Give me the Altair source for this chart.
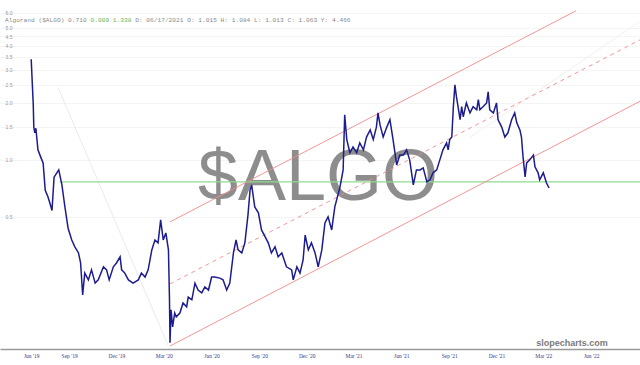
import altair as alt
import pandas as pd

# ---- price series (log scale) ----
dates = [
    "2019-06-20", "2019-06-24", "2019-06-25", "2019-06-27", "2019-06-29",
    "2019-07-03", "2019-07-08", "2019-07-13", "2019-07-17", "2019-07-22", "2019-07-26", "2019-07-30",
    "2019-08-03", "2019-08-08", "2019-08-12", "2019-08-18", "2019-08-24", "2019-08-30",
    "2019-09-06", "2019-09-12", "2019-09-19", "2019-09-23", "2019-09-27",
    "2019-10-01", "2019-10-08", "2019-10-14", "2019-10-21", "2019-10-27",
    "2019-11-06", "2019-11-12", "2019-11-17", "2019-11-25",
    "2019-12-01", "2019-12-08", "2019-12-11", "2019-12-17", "2019-12-24",
    "2020-01-02", "2020-01-12", "2020-01-18", "2020-01-25", "2020-01-31",
    "2020-02-07", "2020-02-13", "2020-02-19", "2020-02-24", "2020-02-29",
    "2020-03-05", "2020-03-10", "2020-03-12", "2020-03-13", "2020-03-15", "2020-03-18", "2020-03-22", "2020-03-25",
    "2020-04-01", "2020-04-07", "2020-04-14", "2020-04-17", "2020-04-24", "2020-04-30",
    "2020-05-06", "2020-05-13", "2020-05-19", "2020-05-26",
    "2020-06-01", "2020-06-07", "2020-06-17", "2020-06-23", "2020-06-30",
    "2020-07-06", "2020-07-13", "2020-07-18", "2020-07-22", "2020-07-29",
    "2020-08-04", "2020-08-10", "2020-08-14", "2020-08-17", "2020-08-23", "2020-08-30",
    "2020-09-05", "2020-09-12", "2020-09-18", "2020-09-24",
    "2020-10-01", "2020-10-07", "2020-10-14", "2020-10-23",
    "2020-11-02", "2020-11-05", "2020-11-12", "2020-11-18", "2020-11-24", "2020-11-28",
    "2020-12-04", "2020-12-10", "2020-12-17", "2020-12-23", "2020-12-30",
    "2021-01-05", "2021-01-11", "2021-01-18", "2021-01-24", "2021-01-30",
    "2021-02-03", "2021-02-09", "2021-02-12", "2021-02-16", "2021-02-22", "2021-02-28",
    "2021-03-07", "2021-03-13", "2021-03-20", "2021-03-26",
    "2021-04-02", "2021-04-08", "2021-04-14", "2021-04-17", "2021-04-21", "2021-04-27",
    "2021-05-04", "2021-05-10", "2021-05-16", "2021-05-23", "2021-05-29",
    "2021-06-05", "2021-06-11", "2021-06-17", "2021-06-24", "2021-06-30",
    "2021-07-07", "2021-07-13", "2021-07-20", "2021-07-26",
    "2021-08-01", "2021-08-08", "2021-08-14", "2021-08-20", "2021-08-27", "2021-08-30",
    "2021-09-02", "2021-09-06", "2021-09-09", "2021-09-12", "2021-09-15", "2021-09-18", "2021-09-22", "2021-09-25", "2021-09-28",
    "2021-10-04", "2021-10-11", "2021-10-17", "2021-10-24", "2021-10-27", "2021-10-30",
    "2021-11-05", "2021-11-12", "2021-11-15", "2021-11-18", "2021-11-25",
    "2021-12-01", "2021-12-04", "2021-12-11", "2021-12-17", "2021-12-23", "2021-12-30",
    "2022-01-05", "2022-01-09", "2022-01-15", "2022-01-18", "2022-01-21", "2022-01-25", "2022-01-28",
    "2022-02-03", "2022-02-10", "2022-02-13", "2022-02-19", "2022-02-22",
    "2022-03-01", "2022-03-07", "2022-03-12",
]
prices = [
    3.40, 1.95, 1.49, 1.39, 1.47,
    1.13, 1.04, 0.96, 0.69, 0.64, 0.59, 0.54,
    0.81, 0.85, 0.885, 0.74, 0.56, 0.435,
    0.377, 0.347, 0.322, 0.285, 0.193,
    0.252, 0.232, 0.262, 0.223, 0.232,
    0.272, 0.262, 0.232, 0.272,
    0.285, 0.307, 0.262, 0.252, 0.232,
    0.223, 0.232, 0.252, 0.240, 0.262,
    0.334, 0.377, 0.364, 0.482, 0.377,
    0.411, 0.334, 0.182, 0.108, 0.161, 0.131, 0.155, 0.148,
    0.155, 0.175, 0.167, 0.188, 0.182, 0.223,
    0.205, 0.198, 0.213, 0.205,
    0.240, 0.240, 0.237, 0.232, 0.205,
    0.223, 0.322, 0.377, 0.334, 0.322,
    0.364, 0.512, 0.694, 0.737, 0.564, 0.525,
    0.426, 0.392, 0.364, 0.322,
    0.347, 0.307, 0.322, 0.272,
    0.262, 0.232, 0.272, 0.252, 0.296, 0.40,
    0.334, 0.364, 0.322, 0.272, 0.334,
    0.464, 0.500, 0.426, 0.564, 0.653,
    0.720, 0.885, 1.73, 1.28, 1.09, 1.17,
    1.09, 1.23, 1.13, 1.32,
    1.44, 1.28, 1.49, 1.77, 1.53, 1.32,
    1.49, 1.63, 1.28, 0.94, 1.06,
    1.06, 1.13, 1.00, 0.737, 0.885,
    0.885, 0.907, 0.765, 0.784,
    0.854, 0.885, 1.00, 1.13, 1.23, 1.13,
    1.28, 1.32, 1.91, 2.49, 2.15, 1.91, 1.63, 1.91, 1.69,
    2.00, 1.77, 1.91, 1.84, 2.08, 1.84,
    1.91, 2.00, 2.29, 1.84, 1.77,
    2.00, 1.63, 1.49, 1.32, 1.39, 1.63,
    1.77, 1.57, 1.44, 1.32, 1.04, 0.813, 0.964,
    1.00, 1.06, 0.918, 0.854, 0.784,
    0.854, 0.756, 0.71,
]

# ---- drawn trend lines (date, price endpoints) ----
upper_dates = ["2020-03-13", "2022-05-03"]
upper_prices = [0.470, 6.14]
mid_dates = ["2020-03-13", "2022-09-03"]
mid_prices = [0.221, 4.31]
lower_dates = ["2020-03-13", "2022-09-03"]
lower_prices = [0.1037, 2.04]
green_dates = ["2019-08-14", "2022-09-03"]
green_prices = [0.765, 0.765]
faint_dates = ["2019-08-11", "2020-03-09"]
faint_prices = [2.40, 0.105]
faint2_dates = ["2021-10-11", "2022-09-03"]
faint2_prices = [1.314, 5.40]

y_ticks = [0.5, 1.0, 1.5, 2.0, 2.5, 3.0, 3.5, 4.0, 4.5, 5.0, 6.0]
x_ticks = [(2019, 6, 20), (2019, 9, 1), (2019, 12, 1), (2020, 3, 1), (2020, 6, 1),
           (2020, 9, 1), (2020, 12, 1), (2021, 3, 1), (2021, 6, 1), (2021, 9, 1),
           (2021, 12, 1), (2022, 3, 1), (2022, 6, 1)]

header_parts = ["Algorand ($ALGO) 0.710", "0.009 1.338",
                "D: 06/17/2021 O: 1.015 H: 1.084 L: 1.013 C: 1.063 Y: 4.466"]
watermark = ["$ALGO"]
site = ["slopecharts.com"]

W, H = 640, 349

def dt(y, m, d):
    return alt.DateTime(year=y, month=m, date=d, utc=True)

x_scale = alt.Scale(type="utc", domain=[dt(2019, 4, 21), dt(2022, 9, 3)])
y_scale = alt.Scale(type="log", domain=[0.1, 7.0])

x_axis = alt.Axis(
    values=[dt(*t) for t in x_ticks],
    labelExpr='utcFormat(datum.value, "%b \'%y")',
    grid=False, ticks=False, domainColor="#9a9a9a", domainWidth=1.5,
    labelFontSize=5.5, labelColor="#3a3a8c", labelFont="Liberation Serif",
    labelPadding=4, title=None, labelOverlap=False,
)
y_axis = alt.Axis(
    values=y_ticks, format=".1f", grid=True, gridColor="#f1f1f1", gridWidth=0.8,
    domain=False, ticks=False, tickSize=0, labelAlign="left", labelPadding=-5,
    labelFontSize=5, labelColor="#9a9a9a", title=None, labelBaseline="middle",
)

def X():
    return alt.X("date:T", scale=x_scale, axis=x_axis)

def Y():
    return alt.Y("price:Q", scale=y_scale, axis=y_axis)

def seg(ds, ps):
    return pd.DataFrame({"date": ds, "price": ps})

price_df = seg(dates, prices)

wm = alt.Chart(pd.DataFrame({"t": watermark})).mark_text(
    fontSize=72, font="Liberation Sans", color="#7a7a7a", opacity=0.85,
    align="center", baseline="alphabetic",
).encode(x=alt.value(318), y=alt.value(200), text="t:N")

faint = alt.Chart(seg(faint_dates, faint_prices)).mark_line(
    color="#e4e4e4", strokeWidth=0.8, clip=True).encode(X(), Y())
faint2 = alt.Chart(seg(faint2_dates, faint2_prices)).mark_line(
    color="#ececec", strokeWidth=0.8, clip=True).encode(X(), Y())
green = alt.Chart(seg(green_dates, green_prices)).mark_line(
    color="#8fdc8f", strokeWidth=1.2, clip=True).encode(X(), Y())
upper = alt.Chart(seg(upper_dates, upper_prices)).mark_line(
    color="#f08a8a", strokeWidth=0.9, clip=True).encode(X(), Y())
lower = alt.Chart(seg(lower_dates, lower_prices)).mark_line(
    color="#f08a8a", strokeWidth=0.9, clip=True).encode(X(), Y())
mid = alt.Chart(seg(mid_dates, mid_prices)).mark_line(
    color="#f08a8a", strokeWidth=0.9, strokeDash=[4, 4], clip=True).encode(X(), Y())

price = alt.Chart(price_df).mark_line(
    color="#1c1c8e", strokeWidth=1.5, clip=True).encode(X(), Y())

fs = 6.2
char_w = 0.6 * fs
hdr_x = [5, 5 + char_w * (len(header_parts[0]) + 1),
         5 + char_w * (len(header_parts[0]) + len(header_parts[1]) + 2)]
hdr_col = ["#8a8a8a", "#5cb85c", "#8a8a8a"]
hdr_layers = [
    alt.Chart(pd.DataFrame({"t": [header_parts[i]]})).mark_text(
        fontSize=fs, font="Liberation Mono", color=hdr_col[i],
        align="left", baseline="middle",
    ).encode(x=alt.value(hdr_x[i]), y=alt.value(19.5), text="t:N")
    for i in range(3)
]

site_layer = alt.Chart(pd.DataFrame({"t": site})).mark_text(
    fontSize=9, font="Liberation Sans", fontWeight="bold", color="#7a7a7a",
    align="center", baseline="middle",
).encode(x=alt.value(572), y=alt.value(343), text="t:N")

chart = alt.layer(
    wm, faint, faint2, green, upper, mid, lower, price, *hdr_layers, site_layer
).properties(
    width=W, height=H,
    autosize=alt.AutoSizeParams(type="none"),
    padding={"left": 0, "top": 0, "right": 0, "bottom": 16},
    background="white",
).configure_view(stroke=None)

chart.save("out.html", embed_options={"renderer": "svg", "actions": False})
